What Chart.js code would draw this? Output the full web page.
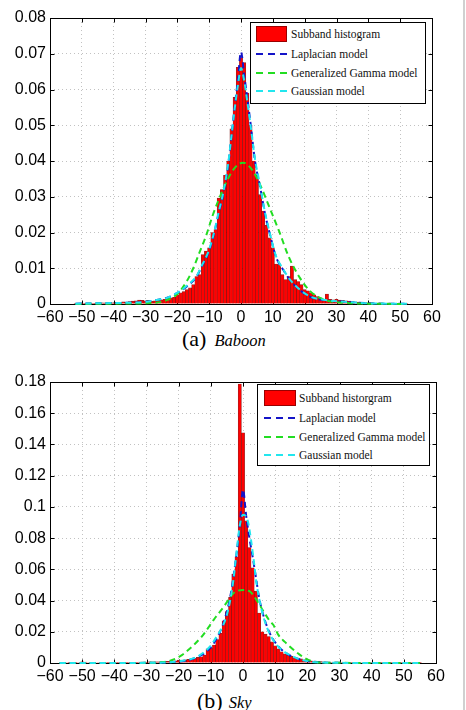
<!DOCTYPE html>
<html>
<head>
<meta charset="utf-8">
<script src="https://cdn.jsdelivr.net/npm/chart.js@4.4.0/dist/chart.umd.min.js"></script>
<style>
  body { margin: 0; background: #fff; }
  #page { position: relative; width: 466px; height: 710px; overflow: hidden; background: #fff; }
  canvas { position: absolute; left: 0; }
  #chartA { top: 0; }
  #chartB { top: 360px; }
  .edge { position: absolute; left: 463px; top: 0; width: 2px; height: 710px; background: #d0d0d0; }
  .legend { position: absolute; background: #fff; border: 1px solid #000; box-sizing: border-box; }
  .legend .item { position: absolute; font: 11.5px "Liberation Serif", serif; color: #111; white-space: nowrap; line-height: 14px; }
  .legend .swatch { position: absolute; background: #f00; border: 1px solid #900; box-sizing: border-box; }
  .legend .dash { position: absolute; height: 2px; }
  .caption { position: absolute; font-family: "Liberation Serif", serif; white-space: nowrap; line-height: 22px; color: #000; }
  .caption .tag { font-size: 22px; }
  .caption .name { font-size: 16.5px; font-style: italic; }
</style>
</head>
<body>
<div id="page">
  <canvas id="chartA" width="466" height="326"></canvas>
  <canvas id="chartB" width="466" height="325"></canvas>
  <div class="caption" style="left:182px; top:328px;"><span class="tag">(a)</span> <span class="name" style="margin-left:4px;">Baboon</span></div>
  <div class="caption" style="left:197px; top:690px;"><span class="tag">(b)</span> <span class="name" style="margin-left:2px;">Sky</span></div>
  <div class="edge"></div>
</div>
<script>
// ---- tick labels ----
const xTickLabels = ["\u221260", "\u221250", "\u221240", "\u221230", "\u221220", "\u221210", "0", "10", "20", "30", "40", "50", "60"];
const yTickLabelsA = ["0", "0.01", "0.02", "0.03", "0.04", "0.05", "0.06", "0.07", "0.08"];
const yTickLabelsB = ["0", "0.02", "0.04", "0.06", "0.08", "0.1", "0.12", "0.14", "0.16", "0.18"];

const legendLabelsA = ["Subband histogram", "Laplacian model", "Generalized Gamma model", "Gaussian model"];
const legendLabelsB = ["Subband historgram", "Laplacian model", "Generalized Gamma model", "Gaussian model"];

// ---- (a) Baboon: histogram, bins -52 .. 52 ----
const binStartA = -52;
const histA = [
  0.0001, 0.0001, 0.0001, 0.0001, 0.0002, 0.0001, 0.0002, 0.0002, 0.0003, 0.0003,
  0.0002, 0.0004, 0.0003, 0.0005, 0.0004, 0.0006, 0.0005, 0.0007, 0.0008, 0.0009,
  0.0011, 0.0010, 0.0009, 0.0010, 0.0008, 0.0009, 0.0010, 0.0012, 0.0013, 0.0016,
  0.0017, 0.0019, 0.0026, 0.0031, 0.0035, 0.0040, 0.0045, 0.0054, 0.0077, 0.0082,
  0.0138, 0.0148, 0.0157, 0.0200, 0.0208, 0.0296, 0.0320, 0.0360, 0.0400, 0.0490,
  0.0578, 0.0662, 0.0689, 0.0675, 0.0590, 0.0500, 0.0400, 0.0360, 0.0306, 0.0260,
  0.0220, 0.0185, 0.0157, 0.0112, 0.0110, 0.0082, 0.0068, 0.0077, 0.0106, 0.0068,
  0.0063, 0.0054, 0.0040, 0.0037, 0.0031, 0.0026, 0.0021, 0.0017, 0.0012, 0.0028,
  0.0013, 0.0012, 0.0013, 0.0011, 0.0010, 0.0009, 0.0008, 0.0007, 0.0006, 0.0005,
  0.0005, 0.0004, 0.0003, 0.0003, 0.0002, 0.0002, 0.0002, 0.0001, 0.0002, 0.0001,
  0.0001, 0.0001, 0.0001, 0.0001, 0.0001
];
const lapXA = [-52, -44, -38, -34, -29, -26, -23, -21, -19, -16.5, -14, -12.4, -10.3, -8.7, -7, -5.5, -4, -3, -2, -1, 0, 1, 2, 3, 4.4, 6, 7.5, 9, 11, 13.3, 15.4, 18.5, 21.7, 26, 31, 36, 40, 46, 52.6];
const lapYA = [0.0001, 0.0002, 0.0003, 0.0004, 0.0007, 0.0012, 0.0018, 0.0026, 0.0036, 0.0053, 0.0076, 0.0104, 0.0142, 0.0188, 0.0254, 0.0310, 0.0390, 0.0470, 0.0550, 0.0625, 0.0705, 0.0640, 0.0575, 0.0505, 0.0400, 0.0328, 0.0254, 0.0198, 0.0132, 0.0095, 0.0067, 0.0039, 0.0020, 0.0011, 0.0007, 0.0004, 0.0002, 0.0001, 0.0001];
const ggXA = [-52, -40, -30, -25, -23, -20, -17, -15, -13, -11, -9, -7, -4.5, -2.4, 0.5, 1.3, 3.5, 6, 9, 12, 15, 18.5, 21.7, 26, 30, 35, 40, 52];
const ggYA = [0, 0.0001, 0.0002, 0.0006, 0.0012, 0.0028, 0.0064, 0.0100, 0.0145, 0.0190, 0.0245, 0.0292, 0.0343, 0.0376, 0.0395, 0.0394, 0.0375, 0.0334, 0.0269, 0.0203, 0.0132, 0.0073, 0.0036, 0.0012, 0.0005, 0.0002, 0.0001, 0];
const gauXA = [-52, -44, -38, -34, -29, -26, -23, -21, -19, -16.5, -14, -12.4, -10.3, -8.7, -7, -5.5, -4, -3, -2, -1, 0, 1, 2, 3, 4.4, 6, 7.5, 9, 11, 13.3, 15.4, 18.5, 21.7, 26, 31, 36, 40, 46, 52.6];
const gauYA = [0.0001, 0.0002, 0.0003, 0.0004, 0.0007, 0.0012, 0.0018, 0.0027, 0.0037, 0.0055, 0.0078, 0.0106, 0.0145, 0.0192, 0.0258, 0.0315, 0.0395, 0.0470, 0.0545, 0.0610, 0.0660, 0.0625, 0.0565, 0.0500, 0.0405, 0.0332, 0.0258, 0.0200, 0.0134, 0.0097, 0.0068, 0.0040, 0.0021, 0.0012, 0.0007, 0.0004, 0.0002, 0.0001, 0.0001];

// ---- (b) Sky: histogram, bins -55 .. 55 ----
const binStartB = -55;
const histB = [
  0.0003, 0.0002, 0.0003, 0.0004, 0.0003, 0.0008, 0.0006, 0.0003, 0.0002, 0.0003,
  0.0003, 0.0002, 0.0003, 0.0004, 0.0003, 0.0003, 0.0004, 0.0003, 0.0004, 0.0004,
  0.0005, 0.0004, 0.0005, 0.0006, 0.0005, 0.0006, 0.0007, 0.0006, 0.0007, 0.0008,
  0.0009, 0.0010, 0.0011, 0.0012, 0.0014, 0.0018, 0.0019, 0.0020, 0.0023, 0.0026,
  0.0030, 0.0036, 0.0040, 0.0051, 0.0090, 0.0096, 0.0115, 0.0150, 0.0190, 0.0270,
  0.0330, 0.0420, 0.0570, 0.0680, 0.1787, 0.1475, 0.0910, 0.0740, 0.0610, 0.0460,
  0.0320, 0.0200, 0.0185, 0.0170, 0.0135, 0.0110, 0.0090, 0.0072, 0.0058, 0.0050,
  0.0042, 0.0035, 0.0030, 0.0026, 0.0021, 0.0017, 0.0014, 0.0012, 0.0010, 0.0009,
  0.0008, 0.0006, 0.0005, 0.0005, 0.0006, 0.0005, 0.0004, 0.0005, 0.0004, 0.0004,
  0.0003, 0.0004, 0.0003, 0.0003, 0.0002, 0.0003, 0.0003, 0.0002, 0.0002, 0.0003,
  0.0002, 0.0002, 0.0003, 0.0002, 0.0002, 0.0002, 0.0001, 0.0002, 0.0001, 0.0001,
  0.0001
];
const lapXB = [-57, -40, -30, -25, -20, -17, -14, -12, -10, -8, -6, -4, -3, -2, -1, 0, 1, 2, 3, 4, 5, 6, 8, 10, 12, 14, 16, 18, 20, 25, 30, 40, 55];
const lapYB = [0, 0, 0.0001, 0.0003, 0.0009, 0.0018, 0.0040, 0.0062, 0.0100, 0.0165, 0.0260, 0.0420, 0.0550, 0.0700, 0.0880, 0.1110, 0.0940, 0.0800, 0.0680, 0.0550, 0.0420, 0.0330, 0.0205, 0.0132, 0.0085, 0.0055, 0.0035, 0.0021, 0.0013, 0.0004, 0.0001, 0, 0];
const ggXB = [-57, -30, -25, -22, -19, -17.5, -15.3, -13, -12.2, -9, -6, -5, -3.3, -2, 0, 2, 3, 5.5, 8.3, 9.4, 11, 13, 14, 17.5, 20.5, 23, 30, 55];
const ggYB = [0, 0.0001, 0.0006, 0.0019, 0.0050, 0.0075, 0.0115, 0.0165, 0.0185, 0.0280, 0.0360, 0.0390, 0.0440, 0.0460, 0.0467, 0.0460, 0.0440, 0.0360, 0.0270, 0.0245, 0.0180, 0.0135, 0.0115, 0.0055, 0.0018, 0.0005, 0.0001, 0];
const gauXB = [-57, -40, -30, -25, -20, -17.5, -15, -13.4, -12, -10.3, -8.2, -6, -5, -4, -3, -2, -1, 0, 1, 1.7, 3.2, 4.2, 5.8, 7.4, 9.4, 11.5, 14.6, 17.7, 20, 23, 30, 40, 55];
const gauYB = [0, 0, 0.0001, 0.0003, 0.0010, 0.0019, 0.0033, 0.0051, 0.0072, 0.0105, 0.0169, 0.0250, 0.0310, 0.0400, 0.0530, 0.0710, 0.0880, 0.0950, 0.0940, 0.0890, 0.0680, 0.0510, 0.0340, 0.0230, 0.0147, 0.0094, 0.0051, 0.0023, 0.0012, 0.0004, 0.0001, 0, 0];

const RED = "#ff0000";
const BLUE = "#1414c8";
const GREEN = "#22dd22";
const CYAN = "#22e6ee";

// matlab style box with inward ticks
const boxPlugin = {
  id: "matlabBox",
  beforeDatasetsDraw(chart) {
    const { ctx, chartArea: a, scales } = chart;
    const x = scales.x, y = scales.y;
    const L = Math.round(a.left) + 0.5, R = Math.round(a.right) + 0.5;
    const T = Math.round(a.top) + 0.5, B = Math.round(a.bottom) + 0.5;
    ctx.save();
    ctx.strokeStyle = "#000";
    ctx.lineWidth = 1;
    ctx.strokeRect(L, T, R - L, B - T);
    ctx.beginPath();
    x.ticks.forEach(t => {
      const px = Math.round(x.getPixelForValue(t.value)) + 0.5;
      ctx.moveTo(px, B); ctx.lineTo(px, B - 4);
      ctx.moveTo(px, T); ctx.lineTo(px, T + 4);
    });
    y.ticks.forEach(t => {
      const py = Math.round(y.getPixelForValue(t.value)) + 0.5;
      ctx.moveTo(L, py); ctx.lineTo(L + 4, py);
      ctx.moveTo(R, py); ctx.lineTo(R - 4, py);
    });
    ctx.stroke();
    ctx.restore();
  }
};

function points(xs, ys) {
  return xs.map((x, i) => ({ x: x, y: ys[i] }));
}

function curve(xs, ys, color, order) {
  return {
    type: "line",
    data: points(xs, ys),
    borderColor: color,
    borderWidth: 2,
    borderDash: [6, 4],
    pointRadius: 0,
    fill: false,
    cubicInterpolationMode: "monotone",
    clip: false,
    order: order
  };
}

function makeChart(id, cfg) {
  const bars = cfg.hist.map((v, i) => ({ x: cfg.binStart + i, y: v }));
  const tickFont = { family: "'Liberation Sans', Arial, sans-serif", size: 16 };
  return new Chart(document.getElementById(id), {
    type: "bar",
    data: {
      datasets: [
        {
          type: "bar",
          data: bars,
          backgroundColor: RED,
          borderColor: "rgba(110,0,0,0.85)",
          borderWidth: 0.6,
          barPercentage: 1,
          categoryPercentage: 1,
          order: 4
        },
        curve(cfg.lapX, cfg.lapY, BLUE, 3),
        curve(cfg.ggX, cfg.ggY, GREEN, 2),
        curve(cfg.gauX, cfg.gauY, CYAN, 1)
      ]
    },
    options: {
      responsive: false,
      animation: false,
      devicePixelRatio: 1,
      events: [],
      layout: { padding: cfg.padding },
      plugins: { legend: { display: false }, tooltip: { enabled: false } },
      scales: {
        x: {
          type: "linear",
          min: -60,
          max: 60,
          offset: false,
          ticks: {
            stepSize: 10,
            autoSkip: false,
            maxRotation: 0,
            padding: 4,
            color: "#000",
            font: tickFont,
            callback: (v, i) => xTickLabels[i]
          },
          grid: { color: "#c2c2c2", lineWidth: 1, drawTicks: false, offset: false },
          border: { display: false, dash: [1, 3] },
          afterFit: s => { s.height = 22; }
        },
        y: {
          type: "linear",
          min: 0,
          max: cfg.yMax,
          ticks: {
            stepSize: cfg.yStep,
            padding: 4,
            color: "#000",
            font: tickFont,
            callback: (v, i) => cfg.yLabels[i]
          },
          grid: { color: "#c2c2c2", lineWidth: 1, drawTicks: false },
          border: { display: false, dash: [1, 3] },
          afterFit: s => { s.width = 50; }
        }
      }
    },
    plugins: [boxPlugin]
  });
}

makeChart("chartA", {
  binStart: binStartA, hist: histA,
  lapX: lapXA, lapY: lapYA, ggX: ggXA, ggY: ggYA, gauX: gauXA, gauY: gauYA,
  yMax: 0.08, yStep: 0.01, yLabels: yTickLabelsA,
  padding: { top: 18, right: 34, bottom: 0, left: 0 }
});

makeChart("chartB", {
  binStart: binStartB, hist: histB,
  lapX: lapXB, lapY: lapYB, ggX: ggXB, ggY: ggYB, gauX: gauXB, gauY: gauYB,
  yMax: 0.18, yStep: 0.02, yLabels: yTickLabelsB,
  padding: { top: 22, right: 30, bottom: 0, left: 0 }
});

// ---- legends (html boxes inside the plot) ----
function makeLegend(labels, box) {
  const page = document.getElementById("page");
  const lg = document.createElement("div");
  lg.className = "legend";
  lg.style.left = box.left + "px";
  lg.style.top = box.top + "px";
  lg.style.width = box.width + "px";
  lg.style.height = box.height + "px";
  const colors = [null, BLUE, GREEN, CYAN];
  labels.forEach((text, i) => {
    const cy = box.rows[i];
    if (i === 0) {
      const sw = document.createElement("div");
      sw.className = "swatch";
      sw.style.left = box.markLeft + "px";
      sw.style.top = (cy - 8) + "px";
      sw.style.width = box.markWidth + "px";
      sw.style.height = "16px";
      lg.appendChild(sw);
    } else {
      const d = document.createElement("div");
      d.className = "dash";
      d.style.left = box.markLeft + "px";
      d.style.top = (cy - 1) + "px";
      d.style.width = (box.markWidth + 2) + "px";
      d.style.background = "repeating-linear-gradient(90deg, " + colors[i] + " 0 7px, transparent 7px 12px)";
      lg.appendChild(d);
    }
    const t = document.createElement("div");
    t.className = "item";
    t.style.left = box.textLeft + "px";
    t.style.top = (cy - 7) + "px";
    t.textContent = text;
    lg.appendChild(t);
  });
  page.appendChild(lg);
}

makeLegend(legendLabelsA, { left: 250, top: 22, width: 176, height: 82, markLeft: 5, markWidth: 31, textLeft: 40, rows: [11, 31, 50, 68] });
makeLegend(legendLabelsB, { left: 257, top: 384, width: 173, height: 82, markLeft: 6, markWidth: 32, textLeft: 41, rows: [13, 33, 52, 70] });
</script>
</body>
</html>
